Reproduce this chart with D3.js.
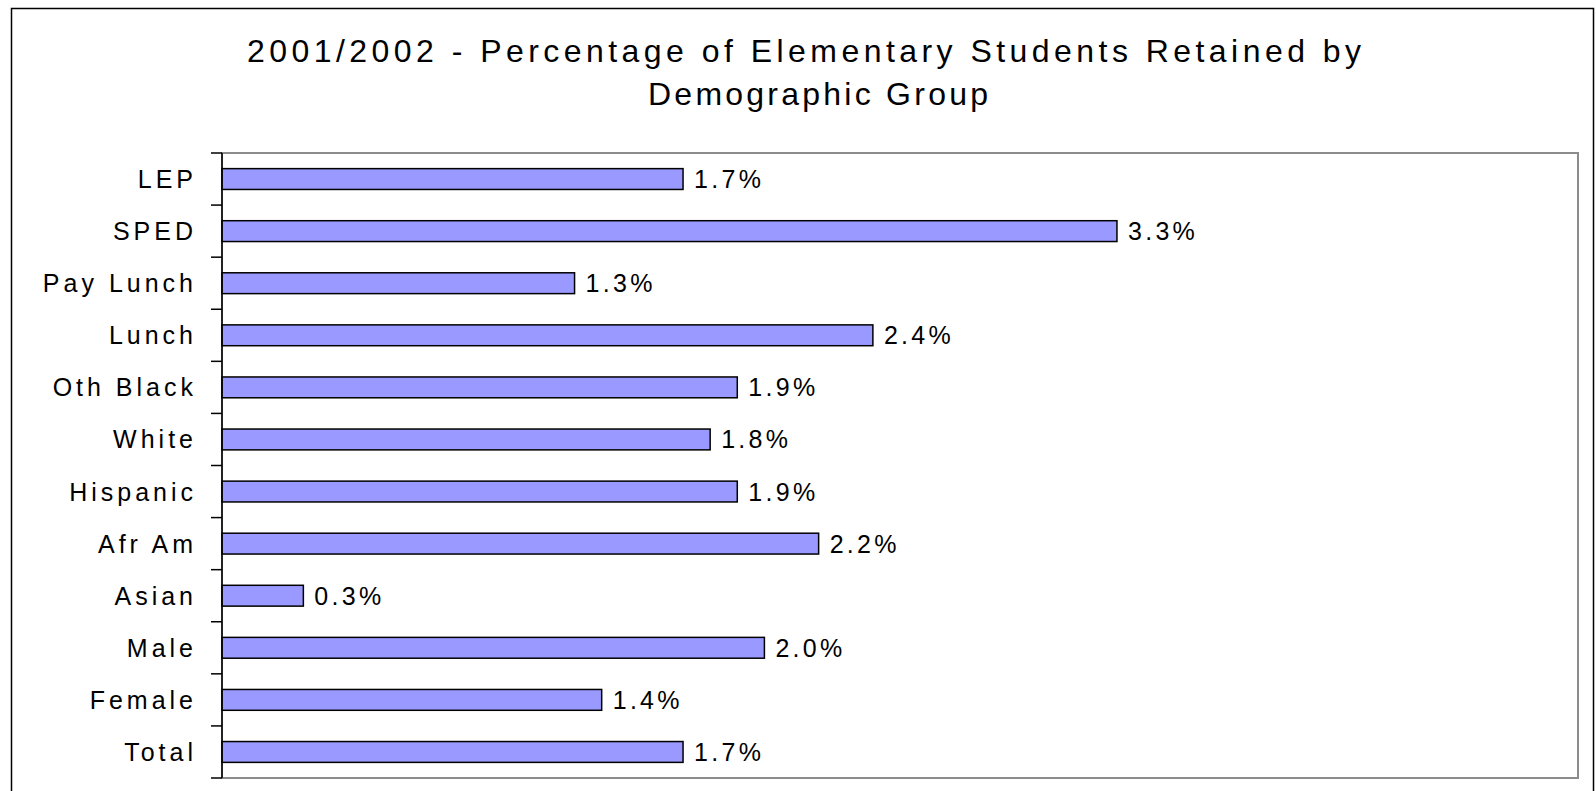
<!DOCTYPE html>
<html>
<head>
<meta charset="utf-8">
<script src="https://cdn.jsdelivr.net/npm/d3@7"></script>
<style>
  html, body { margin: 0; padding: 0; background: #fff; }
  svg text { font-family: "Liberation Sans", Arial, sans-serif; fill: #000; }
</style>
</head>
<body>
<div id="chart"></div>
<script>
// data
const titleLines = [
  "2001/2002 - Percentage of Elementary Students Retained by",
  "Demographic Group"
];
const categories = ["LEP", "SPED", "Pay Lunch", "Lunch", "Oth Black", "White",
  "Hispanic", "Afr Am", "Asian", "Male", "Female", "Total"];
const retained = [0.017, 0.033, 0.013, 0.024, 0.019, 0.018,
  0.019, 0.022, 0.003, 0.020, 0.014, 0.017];
const xDomain = [0, 0.05];

const width = 1596, height = 791;
const plot = { left: 222, top: 153, right: 1578, bottom: 778 };

const svg = d3.select("#chart").append("svg")
  .attr("width", width)
  .attr("height", height);

// outer chart border
svg.append("rect")
  .attr("x", 11.5).attr("y", 8.5)
  .attr("width", 1582).attr("height", 800)
  .attr("fill", "none")
  .attr("stroke", "#000")
  .attr("stroke-width", 1.5);

// title, two lines
const titleFit = [[247, 62, 1114], [648, 105, 340]];
svg.selectAll("text.title")
  .data(titleLines)
  .join("text")
    .attr("class", "title")
    .attr("x", (d, i) => titleFit[i][0])
    .attr("y", (d, i) => titleFit[i][1])
    .attr("textLength", (d, i) => titleFit[i][2])
    .attr("lengthAdjust", "spacing")
    .style("font-size", "32px")
    .text(d => d);

const x = d3.scaleLinear().domain(xDomain).range([plot.left, plot.right]);
const y = d3.scaleBand().domain(categories)
  .range([plot.top, plot.bottom])
  .paddingInner(0.6)
  .paddingOuter(0.3);

// plot area frame (gray)
svg.append("rect")
  .attr("x", plot.left).attr("y", plot.top)
  .attr("width", plot.right - plot.left)
  .attr("height", plot.bottom - plot.top)
  .attr("fill", "none")
  .attr("stroke", "#8c8c8c")
  .attr("stroke-width", 2);

// bars
const rows = categories.map((c, i) => ({ cat: c, v: retained[i] }));
svg.append("g").selectAll("rect")
  .data(rows)
  .join("rect")
    .attr("x", x(0))
    .attr("y", d => y(d.cat))
    .attr("width", d => x(d.v) - x(0))
    .attr("height", y.bandwidth())
    .attr("fill", "#9999ff")
    .attr("stroke", "#000")
    .attr("stroke-width", 1.5);

// value labels
svg.append("g").selectAll("text")
  .data(rows)
  .join("text")
    .attr("x", d => x(d.v) + 11)
    .attr("y", d => y(d.cat) + y.bandwidth() / 2 + 9)
    .style("font-size", "25px")
    .style("letter-spacing", "3.3px")
    .text(d => d3.format(".1%")(d.v));

// category axis: labels from d3.axisLeft, ticks at band boundaries
const axis = svg.append("g")
  .attr("transform", `translate(${plot.left},0)`)
  .call(d3.axisLeft(y).tickSize(0).tickPadding(25));
axis.select(".domain").remove();
axis.selectAll("text")
  .attr("fill", "#000")
  .attr("dy", "0.36em")
  .style("font-size", "25px")
  .style("letter-spacing", "4px")
  .style("font-family", '"Liberation Sans", Arial, sans-serif');

const bounds = d3.range(categories.length + 1).map(i => plot.top + i * y.step());
svg.append("g").selectAll("line")
  .data(bounds)
  .join("line")
    .attr("x1", plot.left - 11).attr("x2", plot.left)
    .attr("y1", d => d).attr("y2", d => d)
    .attr("stroke", "#000")
    .attr("stroke-width", 1.5);

svg.append("line")
  .attr("x1", plot.left).attr("x2", plot.left)
  .attr("y1", plot.top).attr("y2", plot.bottom)
  .attr("stroke", "#000")
  .attr("stroke-width", 1.5);
</script>
</body>
</html>
